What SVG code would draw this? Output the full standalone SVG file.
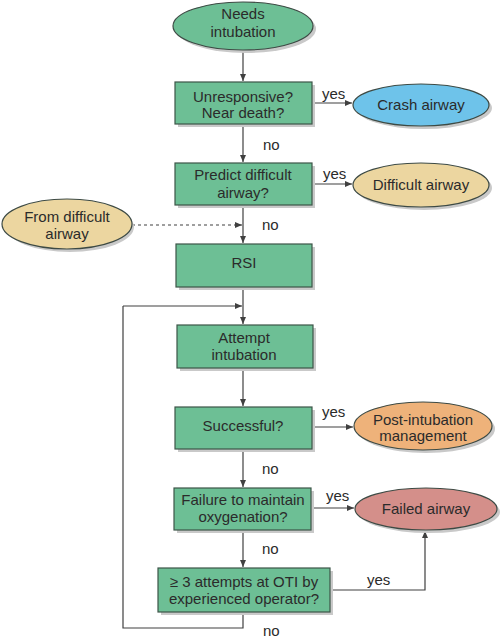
<svg xmlns="http://www.w3.org/2000/svg" width="500" height="640" viewBox="0 0 500 640">
<style>
text{font-family:"Liberation Sans",Arial,sans-serif;font-size:15px;fill:#2b2b2b;text-anchor:middle}
.box{fill:#6dbf95;stroke:#3d5548;stroke-width:1.2}
.sh{fill:#c9c9c9}
.ell{stroke:#3d4a44;stroke-width:1.2}
.ln{fill:none;stroke:#404040;stroke-width:1.2}
.dash{stroke-dasharray:3,3}
.lbl{text-anchor:start}
</style>
<defs>
<marker id="ah" markerWidth="8" markerHeight="8" refX="7" refY="4" orient="auto" markerUnits="userSpaceOnUse">
<path d="M0,1 L7,4 L0,7 Z" fill="#404040"/>
</marker>
</defs>
<rect width="500" height="640" fill="#ffffff"/>

<g id="connectors">
<path class="ln" d="M243,50 V81" marker-end="url(#ah)"/>
<path class="ln" d="M312,103 H352" marker-end="url(#ah)"/>
<path class="ln" d="M243,124 V162" marker-end="url(#ah)"/>
<path class="ln" d="M312,184 H352" marker-end="url(#ah)"/>
<path class="ln dash" d="M132,225 H242" marker-end="url(#ah)"/>
<path class="ln" d="M243,205 V243" marker-end="url(#ah)"/>
<path class="ln" d="M243,287 V324" marker-end="url(#ah)"/>
<path class="ln" d="M123,306 H242" marker-end="url(#ah)"/>
<path class="ln" d="M243,368 V406" marker-end="url(#ah)"/>
<path class="ln" d="M312,427 H353" marker-end="url(#ah)"/>
<path class="ln" d="M243,449 V487" marker-end="url(#ah)"/>
<path class="ln" d="M311,508 H354" marker-end="url(#ah)"/>
<path class="ln" d="M243,530 V567" marker-end="url(#ah)"/>
<path class="ln" d="M330,590 H425 V531" marker-end="url(#ah)"/>
<path class="ln" d="M243,612 V628 H123 V306"/>
<text class="lbl" x="322" y="99">yes</text>
<text class="lbl" x="263" y="150">no</text>
<text class="lbl" x="323" y="179">yes</text>
<text class="lbl" x="262" y="230">no</text>
<text class="lbl" x="322" y="417">yes</text>
<text class="lbl" x="262" y="474">no</text>
<text class="lbl" x="326" y="501">yes</text>
<text class="lbl" x="262" y="554">no</text>
<text class="lbl" x="367" y="585">yes</text>
<text class="lbl" x="263" y="636" font-size="14">no</text>
</g>

<g id="needs-intubation">
<ellipse class="sh" cx="246" cy="29" rx="70" ry="24"/>
<ellipse class="ell" cx="243" cy="26" rx="70" ry="24" fill="#6dbf95"/>
<text x="243" y="19">Needs</text>
<text x="243" y="37">intubation</text>
</g>

<g id="unresponsive">
<rect class="sh" x="178" y="85" width="137" height="42"/>
<rect class="box" x="175" y="82" width="137" height="42"/>
<text x="243" y="102">Unresponsive?</text>
<text x="243" y="118">Near death?</text>
</g>

<g id="crash-airway">
<ellipse class="sh" cx="424" cy="108" rx="68" ry="21"/>
<ellipse class="ell" cx="421" cy="105" rx="68" ry="21" fill="#6ec3ea"/>
<text x="421" y="110">Crash airway</text>
</g>

<g id="predict">
<rect class="sh" x="178" y="166" width="137" height="42"/>
<rect class="box" x="175" y="163" width="137" height="42"/>
<text x="243" y="180">Predict difficult</text>
<text x="243" y="198">airway?</text>
</g>

<g id="difficult-airway">
<ellipse class="sh" cx="424" cy="188" rx="68" ry="22"/>
<ellipse class="ell" cx="421" cy="185" rx="68" ry="22" fill="#ecd6a0"/>
<text x="421" y="190">Difficult airway</text>
</g>

<g id="from-difficult">
<ellipse class="sh" cx="70" cy="227" rx="64" ry="25"/>
<ellipse class="ell" cx="67" cy="224" rx="65" ry="25" fill="#ecd6a0"/>
<text x="67" y="222">From difficult</text>
<text x="67" y="239">airway</text>
</g>

<g id="rsi">
<rect class="sh" x="179" y="247" width="136" height="43"/>
<rect class="box" x="176" y="244" width="136" height="43"/>
<text x="244" y="268">RSI</text>
</g>

<g id="attempt">
<rect class="sh" x="180" y="328" width="136" height="43"/>
<rect class="box" x="177" y="325" width="136" height="43"/>
<text x="244" y="343">Attempt</text>
<text x="244" y="360">intubation</text>
</g>

<g id="successful">
<rect class="sh" x="178" y="410" width="137" height="42"/>
<rect class="box" x="175" y="407" width="137" height="42"/>
<text x="243" y="431">Successful?</text>
</g>

<g id="post-intubation">
<ellipse class="sh" cx="426" cy="429" rx="69" ry="24"/>
<ellipse class="ell" cx="423" cy="426" rx="69" ry="24" fill="#eeb27a"/>
<text x="423" y="425">Post-intubation</text>
<text x="423" y="441">management</text>
</g>

<g id="failure">
<rect class="sh" x="177" y="491" width="137" height="42"/>
<rect class="box" x="174" y="488" width="137" height="42"/>
<text x="243" y="505">Failure to maintain</text>
<text x="243" y="522">oxygenation?</text>
</g>

<g id="failed-airway">
<ellipse class="sh" cx="429" cy="512" rx="71" ry="21"/>
<ellipse class="ell" cx="426" cy="509" rx="71" ry="21" fill="#d48f8a"/>
<text x="426" y="514">Failed airway</text>
</g>

<g id="attempts">
<rect class="sh" x="161" y="571" width="172" height="44"/>
<rect class="box" x="158" y="568" width="172" height="44"/>
<text x="244" y="587">≥ 3 attempts at OTI by</text>
<text x="244" y="604">experienced operator?</text>
</g>
</svg>
